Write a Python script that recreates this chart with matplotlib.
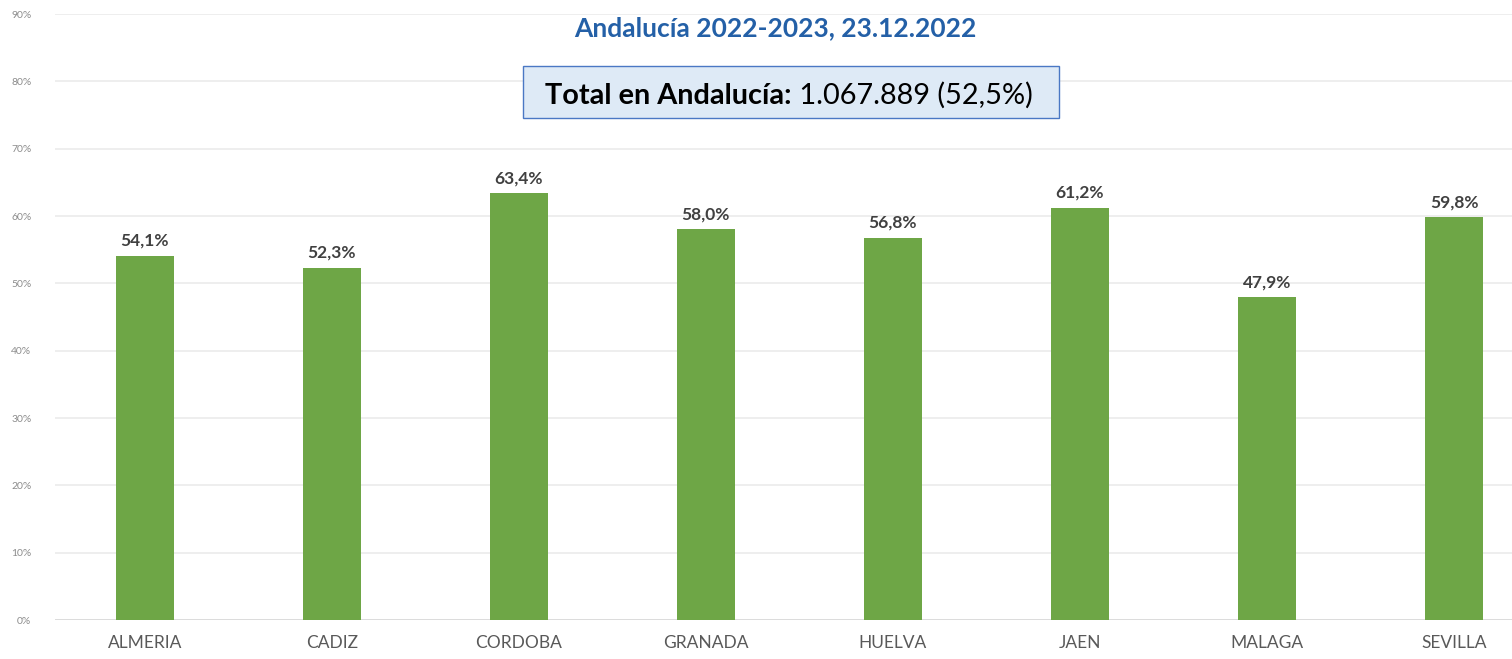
import matplotlib

matplotlib.use("Agg")

import matplotlib.pyplot as plt
from matplotlib.patches import Rectangle
from matplotlib.text import Annotation
from matplotlib.ticker import FuncFormatter, MultipleLocator

provinces = ["ALMERIA", "CADIZ", "CORDOBA", "GRANADA", "HUELVA", "JAEN", "MALAGA", "SEVILLA"]
coverage = [54.1, 52.3, 63.4, 58.0, 56.8, 61.2, 47.9, 59.8]
title = "Andalucía 2022-2023, 23.12.2022"
total_label = "Total en Andalucía:"
total_value = " 1.067.889 (52,5%)"

W, H = 1512, 659
plt.rcParams["font.family"] = ["Lato", "DejaVu Sans"]

fig = plt.figure(figsize=(W / 100, H / 100), dpi=100, facecolor="white")
ax = fig.add_axes([55 / W, 1 - 620 / H, 1 - 55 / W, (620 - 14) / H])

x = range(len(provinces))
ax.bar(x, coverage, width=0.31, color="#6ea646", zorder=2)

for i, v in zip(x, coverage):
    ax.annotate(
        f"{v:.1f}%".replace(".", ","),
        xy=(i, v),
        xytext=(0, 5),
        textcoords="offset points",
        ha="center",
        va="bottom",
        fontsize=12.5,
        fontweight="bold",
        color="#404040",
    )

ax.set_xlim(-0.48, 7.31)
ax.set_ylim(0, 90)
ax.yaxis.set_major_locator(MultipleLocator(10))
ax.yaxis.set_major_formatter(FuncFormatter(lambda v, _p: f"{v:.0f}%"))
ax.set_xticks(list(x))
ax.set_xticklabels(provinces, fontsize=12.5, color="#595959")
ax.tick_params(axis="y", labelsize=7.5, colors="#8c8c8c", length=0, pad=17)
ax.tick_params(axis="x", length=0, pad=11)
ax.grid(axis="y", color="#ebebeb", linewidth=1.2, zorder=0)
ax.set_axisbelow(True)
for spine in ax.spines.values():
    spine.set_visible(False)
ax.axhline(0, color="#d9d9d9", linewidth=1.2, zorder=1)

fig.text(775 / W, 1 - 28 / H, title, ha="center", va="center",
         fontsize=19, fontweight="bold", color="#2460a7")

# total box
fig.patches.append(Rectangle((523 / W, 1 - 118 / H), 536 / W, 52 / H,
                             transform=fig.transFigure, facecolor="#deeaf6",
                             edgecolor="#4a78c4", linewidth=1.0, zorder=3))
t1 = fig.text(545 / W, 1 - 93 / H, total_label, ha="left", va="center_baseline",
              fontsize=20.8, fontweight="bold", color="black", zorder=4)
t2 = Annotation(total_value, xy=(1, 0), xycoords=t1, ha="left", va="bottom",
                fontsize=20.8, color="black", annotation_clip=False, zorder=4)
fig.add_artist(t2)

fig.savefig("out.png", dpi=100, facecolor="white")
